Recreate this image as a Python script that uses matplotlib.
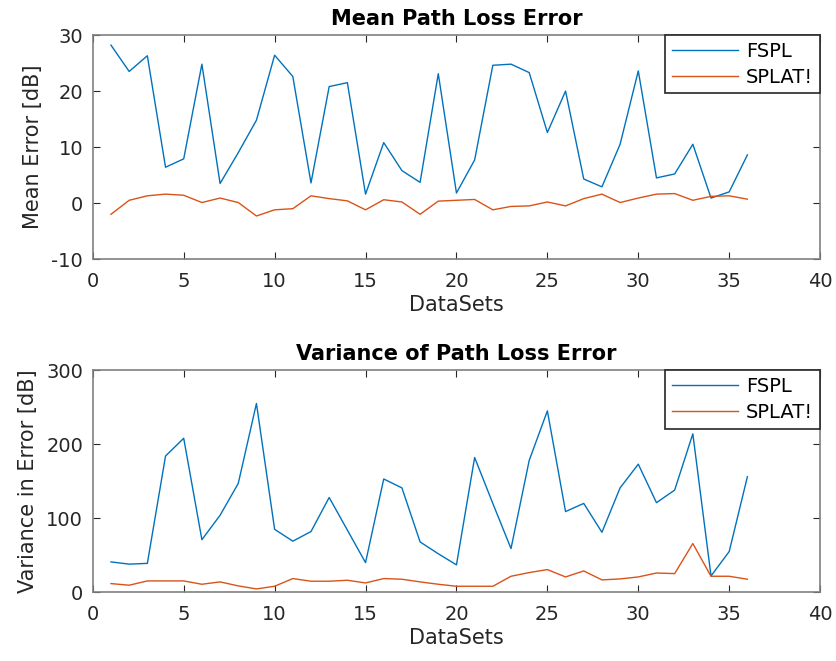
import matplotlib.pyplot as plt
import numpy as np

datasets = np.arange(1, 37)

mean_fspl = [28.2, 23.5, 26.3, 6.4, 7.9, 24.8, 3.5, 9.0, 14.8, 26.4,
             22.6, 3.6, 20.8, 21.5, 1.6, 10.8, 5.8, 3.7, 23.1, 1.8,
             7.7, 24.6, 24.8, 23.3, 12.6, 20.0, 4.3, 2.9, 10.5, 23.6,
             4.5, 5.2, 10.5, 0.9, 2.0, 8.6]
mean_splat = [-2.0, 0.5, 1.3, 1.6, 1.4, 0.1, 0.9, 0.1, -2.3, -1.2,
              -1.0, 1.3, 0.8, 0.4, -1.2, 0.6, 0.2, -2.0, 0.35, 0.5,
              0.65, -1.2, -0.6, -0.5, 0.2, -0.5, 0.8, 1.6, 0.1, 0.9,
              1.6, 1.7, 0.5, 1.2, 1.3, 0.7]

var_fspl = [41, 38, 39, 184, 208, 71, 104, 147, 255, 85,
            69, 82, 128, 84, 40, 153, 141, 68, 52, 37,
            182, 120, 59, 178, 245, 109, 120, 81, 141, 173,
            121, 138, 214, 22, 55, 156]
var_splat = [11.7, 9.5, 15.3, 15.3, 15.3, 10.8, 14, 8.6, 4.5, 8.1,
             18.5, 14.9, 14.9, 16.2, 12.6, 18.5, 17.6, 14, 10.8, 8.1,
             8.1, 8.1, 21.6, 26.6, 30.6, 20.7, 28.8, 16.7, 18, 20.7,
             26, 25.2, 65.8, 21.6, 21.6, 17.6]

plt.rcParams['font.family'] = ['DejaVu Sans']
plt.rcParams['axes.unicode_minus'] = False
txt = '#262626'
blue = '#0072BD'
orange = '#D95319'

fig = plt.figure(figsize=(8.36, 6.61), dpi=100)
ax1 = fig.add_axes([0.111, 0.608, 0.870, 0.339])
ax2 = fig.add_axes([0.111, 0.104, 0.870, 0.336])


def style(ax, title, ylabel):
    ax.set_xlim(0, 40)
    ax.set_title(title, fontsize=15, fontweight='bold', color='black', pad=7)
    ax.set_xlabel('DataSets', fontsize=15, color=txt, labelpad=3)
    ax.set_ylabel(ylabel, fontsize=15, color=txt, labelpad=6)
    ax.tick_params(direction='in', top=True, right=True, labelsize=14,
                   colors=txt, length=5, width=0.8)
    ax.tick_params(axis='x', pad=9)
    ax.tick_params(axis='y', pad=7)
    for s in ax.spines.values():
        s.set_color('#808080')
        s.set_linewidth(1.2)
    leg = ax.legend(loc='upper right', fontsize=14, fancybox=False,
                    edgecolor='#262626', framealpha=1, borderpad=0.35,
                    handlelength=3.4, handletextpad=0.4, borderaxespad=0,
                    labelspacing=0.35)
    leg.get_frame().set_linewidth(1.2)


ax1.plot(datasets, mean_fspl, color=blue, lw=1.0, label='FSPL')
ax1.plot(datasets, mean_splat, color=orange, lw=1.0, label='SPLAT!')
ax1.set_ylim(-10, 30)
ax1.set_yticks([-10, 0, 10, 20, 30])
style(ax1, 'Mean Path Loss Error', 'Mean Error [dB]')

ax2.plot(datasets, var_fspl, color=blue, lw=1.0, label='FSPL')
ax2.plot(datasets, var_splat, color=orange, lw=1.0, label='SPLAT!')
ax2.set_ylim(0, 300)
ax2.set_yticks([0, 100, 200, 300])
style(ax2, 'Variance of Path Loss Error', 'Variance in Error [dB]')

fig.savefig('out.png', dpi=100)
